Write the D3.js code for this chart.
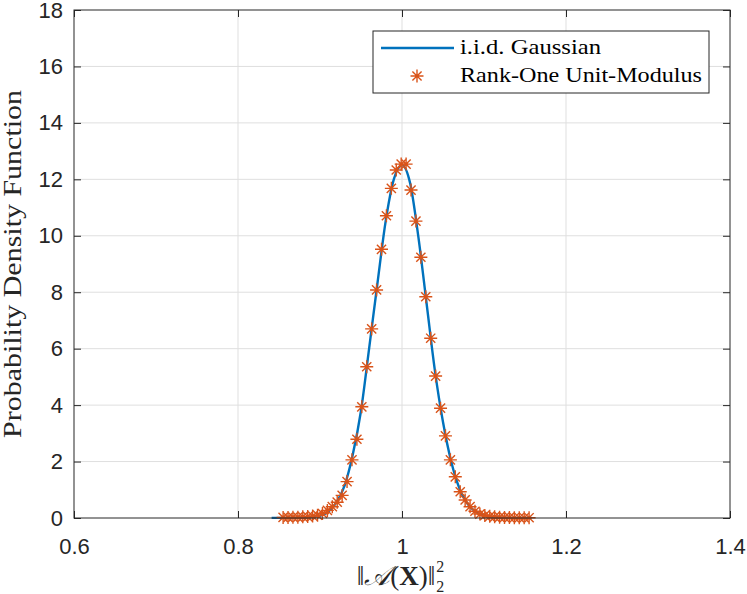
<!DOCTYPE html>
<html>
<head>
<meta charset="utf-8">
<script src="https://cdn.jsdelivr.net/npm/d3@7"></script>
<style>
  body { margin: 0; background: #fff; }
  text { fill: #262626; }
</style>
</head>
<body>
<script>
// marker samples (histogram of the rank-one unit-modulus case)
const markerX = [0.855, 0.861, 0.867, 0.873, 0.879, 0.885, 0.891, 0.897, 0.903, 0.909,
  0.915, 0.921, 0.927, 0.933, 0.939, 0.945, 0.951, 0.957, 0.963, 0.969,
  0.975, 0.981, 0.987, 0.993, 0.999, 1.005, 1.011, 1.017, 1.023, 1.029,
  1.035, 1.041, 1.047, 1.053, 1.059, 1.065, 1.071, 1.077, 1.083, 1.089,
  1.095, 1.101, 1.107, 1.113, 1.119, 1.125, 1.131, 1.137, 1.143, 1.149, 1.155];
const markerY = [0.02, 0.02, 0.03, 0.03, 0.04, 0.05, 0.07, 0.10, 0.16, 0.27,
  0.40, 0.56, 0.80, 1.29, 2.06, 2.79, 3.94, 5.36, 6.70, 8.08,
  9.52, 10.71, 11.68, 12.33, 12.54, 12.54, 11.62, 10.52, 9.24, 7.84,
  6.37, 5.03, 3.89, 2.91, 2.06, 1.46, 0.93, 0.64, 0.40, 0.24,
  0.14, 0.09, 0.06, 0.04, 0.03, 0.02, 0.02, 0.01, 0.01, 0.01, 0.01];

// i.i.d. gaussian curve
const lineX = [0.841, 0.86, 0.88, 0.90, 0.91, 0.92, 0.93, 0.94, 0.95, 0.96, 0.97, 0.98, 0.99, 1.00,
  1.01, 1.02, 1.03, 1.04, 1.05, 1.06, 1.07, 1.08, 1.09, 1.10, 1.12, 1.14, 1.158];
const lineY = [0, 0, 0.01, 0.08, 0.22, 0.55, 1.15, 2.25, 3.8, 6.03, 8.3, 10.5, 12.0, 12.5,
  11.85, 9.95, 7.6, 5.25, 3.4, 2.0, 1.05, 0.5, 0.22, 0.08, 0.01, 0, 0];

const xTicks = [0.6, 0.8, 1, 1.2, 1.4];
const yTicks = [0, 2, 4, 6, 8, 10, 12, 14, 16, 18];
const legendLabels = ["i.i.d. Gaussian", "Rank-One Unit-Modulus"];

const W = 747, H = 594;
const margin = { top: 10, right: 17, bottom: 76, left: 74 };
const width = W - margin.left - margin.right;
const height = H - margin.top - margin.bottom;

const blue = "#0072bd", orange = "#d95319", ink = "#262626";
const sans = "'Liberation Sans', Arial, Helvetica, sans-serif";
const serif = "'Liberation Serif', 'Times New Roman', serif";

const svg = d3.select("body").append("svg")
  .attr("width", W).attr("height", H);

const g = svg.append("g")
  .attr("transform", `translate(${margin.left},${margin.top})`);

const xscale = d3.scaleLinear().domain([0.6, 1.4]).range([0, width]);
const yscale = d3.scaleLinear().domain([0, 18]).range([height, 0]);

// grid
g.append("g").selectAll("line").data(xTicks.slice(1, -1)).join("line")
  .attr("x1", d => xscale(d)).attr("x2", d => xscale(d))
  .attr("y1", 0).attr("y2", height)
  .attr("stroke", "#dfdfdf").attr("stroke-width", 1);
g.append("g").selectAll("line").data(yTicks.slice(1, -1)).join("line")
  .attr("y1", d => yscale(d)).attr("y2", d => yscale(d))
  .attr("x1", 0).attr("x2", width)
  .attr("stroke", "#dfdfdf").attr("stroke-width", 1);

// axes, ticks point inward like matlab
const tk = 7;
const styleAxis = sel => {
  sel.attr("font-size", 22).attr("font-family", sans);
  sel.select(".domain").remove();
  sel.selectAll(".tick line").attr("stroke", ink);
  sel.selectAll(".tick text").attr("fill", ink);
};
g.append("g").attr("transform", `translate(0,${height})`)
  .call(d3.axisBottom(xscale).tickValues(xTicks).tickFormat(d3.format("")).tickSizeInner(-tk).tickSizeOuter(0).tickPadding(20))
  .call(styleAxis);
g.append("g")
  .call(d3.axisLeft(yscale).tickValues(yTicks).tickSizeInner(-tk).tickSizeOuter(0).tickPadding(11))
  .call(styleAxis);
g.append("g")
  .call(d3.axisTop(xscale).tickValues(xTicks).tickFormat("").tickSizeInner(-tk).tickSizeOuter(0))
  .call(styleAxis);
g.append("g").attr("transform", `translate(${width},0)`)
  .call(d3.axisRight(yscale).tickValues(yTicks).tickFormat("").tickSizeInner(-tk).tickSizeOuter(0))
  .call(styleAxis);

// clip for curve
svg.append("defs").append("clipPath").attr("id", "clip")
  .append("rect").attr("width", width).attr("height", height + 2).attr("y", -1);

const pts = lineX.map((x, i) => [x, lineY[i]]);
g.append("path")
  .datum(pts)
  .attr("clip-path", "url(#clip)")
  .attr("fill", "none")
  .attr("stroke", blue)
  .attr("stroke-width", 2.4)
  .attr("d", d3.line().x(d => xscale(d[0])).y(d => yscale(d[1])).curve(d3.curveMonotoneX));

// asterisk marker
const star = (sel, r) => {
  const a = r * Math.SQRT1_2;
  sel.append("path")
    .attr("d", `M${-r},0H${r}M0,${-r}V${r}M${-a},${-a}L${a},${a}M${-a},${a}L${a},${-a}`)
    .attr("stroke", orange).attr("stroke-width", 1.4).attr("fill", "none");
};

const marks = g.append("g").selectAll("g")
  .data(markerX.map((x, i) => [x, markerY[i]]))
  .join("g")
  .attr("transform", d => `translate(${xscale(d[0])},${yscale(d[1])})`);
marks.each(function () { star(d3.select(this), 6.5); });

// box
g.append("rect").attr("width", width).attr("height", height)
  .attr("fill", "none").attr("stroke", ink).attr("stroke-width", 1);

// legend
const lg = svg.append("g");
lg.append("rect").attr("x", 373).attr("y", 31).attr("width", 336).attr("height", 62)
  .attr("fill", "#fff").attr("stroke", ink).attr("stroke-width", 1);
lg.append("line").attr("x1", 381).attr("x2", 454).attr("y1", 48).attr("y2", 48)
  .attr("stroke", blue).attr("stroke-width", 2.4);
star(lg.append("g").attr("transform", "translate(417,76)"), 6.5);
const legW = [141, 242];
lg.selectAll("text.leg").data(legendLabels).join("text")
  .attr("class", "leg")
  .attr("x", 460).attr("y", (d, i) => 54 + i * 28)
  .attr("textLength", (d, i) => legW[i]).attr("lengthAdjust", "spacingAndGlyphs")
  .style("font-family", serif).style("font-size", "21px")
  .style("fill", "#000")
  .text(d => d);

// y label
svg.append("text")
  .attr("transform", `translate(21,${margin.top + height / 2}) rotate(-90)`)
  .attr("text-anchor", "middle")
  .attr("textLength", 348).attr("lengthAdjust", "spacingAndGlyphs")
  .style("font-family", serif).style("font-size", "25px")
  .text("Probability Density Function");

// x label ||A(X)||_2^2
const xl = svg.append("text")
  .attr("y", 585)
  .style("font-family", serif).style("font-size", "27px");
xl.append("tspan").text("\u2016");
xl.append("tspan").style("font-style", "italic").text("\ud835\udc9c");
xl.append("tspan").text("(");
xl.append("tspan").style("font-weight", "bold").text("X");
xl.append("tspan").text(")\u2016");
const mainW = xl.node().getComputedTextLength();
const x0 = 402 - (mainW + 12) / 2;
xl.attr("x", x0);
svg.append("text").attr("x", x0 + mainW + 1).attr("y", 572)
  .style("font-family", serif).style("font-size", "16px").text("2");
svg.append("text").attr("x", x0 + mainW + 1).attr("y", 592)
  .style("font-family", serif).style("font-size", "16px").text("2");
</script>
</body>
</html>
